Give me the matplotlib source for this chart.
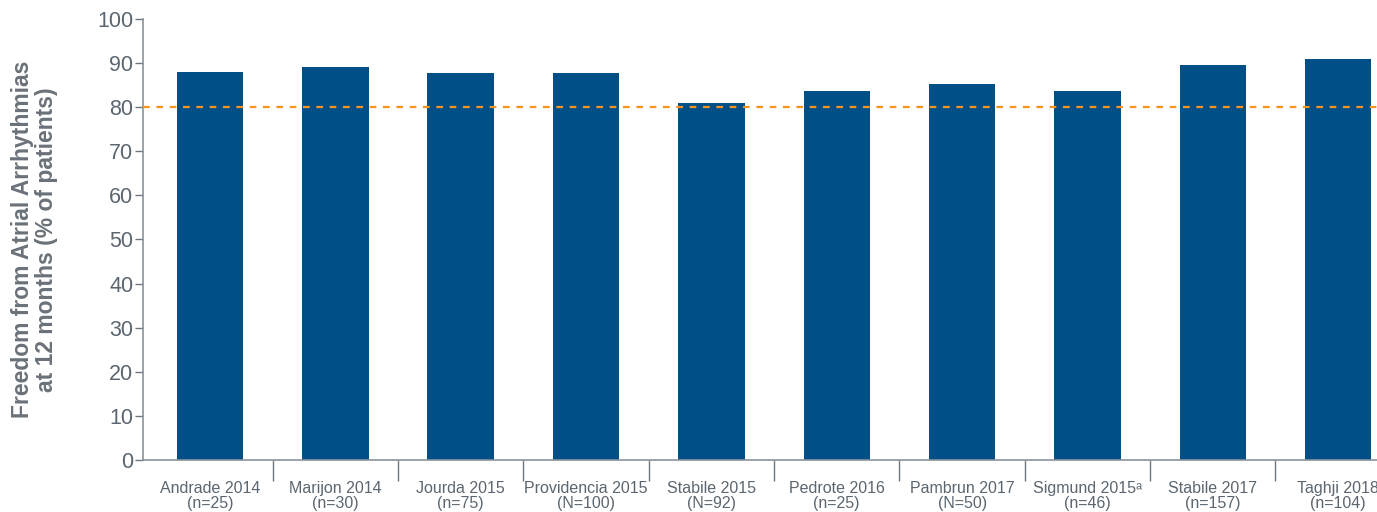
import numpy as np
import matplotlib.pyplot as plt

# data
studies = ["Andrade 2014", "Marijon 2014", "Jourda 2015", "Providencia 2015", "Stabile 2015",
           "Pedrote 2016", "Pambrun 2017", "Sigmund 2015\u1d43", "Stabile 2017", "Taghji 2018"]
sizes = ["(n=25)", "(n=30)", "(n=75)", "(N=100)", "(N=92)",
         "(n=25)", "(N=50)", "(n=46)", "(n=157)", "(n=104)"]
freedom = [88.0, 89.1, 87.8, 87.8, 81.0, 83.7, 85.3, 83.7, 89.6, 90.9]
threshold = 80

bar_color = "#005087"
line_color = "#f7941d"
text_color = "#5b6670"
font = ["Liberation Sans Narrow", "Liberation Sans", "DejaVu Sans"]

fig = plt.figure(figsize=(13.77, 5.12), dpi=100)
ax = fig.add_axes([0.1038, 0.1016, 0.8962, 0.8613])

x = np.arange(len(freedom))
ax.bar(x, freedom, width=0.53, color=bar_color, zorder=2)
ax.axhline(threshold, color=line_color, lw=1.6, ls=(0, (3, 3)), zorder=3)

ax.set_xlim(-0.535, 9.31)
ax.set_ylim(0, 100)
ax.set_yticks(range(0, 101, 10))
ax.set_yticklabels([str(v) for v in range(0, 101, 10)], fontsize=15.5,
                   color=text_color, family=["Liberation Sans", "DejaVu Sans"])
ax.tick_params(axis="y", length=6, width=1, color="#6d7680", pad=1)

ax.set_xticks(x)
ax.set_xticklabels([f"{s}\n{n}" for s, n in zip(studies, sizes)], fontsize=11.5,
                   color=text_color, family=font, linespacing=1.0)
ax.tick_params(axis="x", which="major", length=0, pad=15)
ax.set_xticks(x[:-1] + 0.5, minor=True)
ax.tick_params(axis="x", which="minor", length=15, width=1, color="#6d7680")

for side in ["top", "right"]:
    ax.spines[side].set_visible(False)
for side in ["left", "bottom"]:
    ax.spines[side].set_color("#8a9299")
    ax.spines[side].set_linewidth(1.2)

ax.set_ylabel("Freedom from Atrial Arrhythmias\nat 12 months (% of patients)", fontsize=16.5,
              fontweight="bold", color="#6a7178", family=["Liberation Sans", "DejaVu Sans"],
              linespacing=1.05, labelpad=28)

fig.savefig("out.png", dpi=100)
